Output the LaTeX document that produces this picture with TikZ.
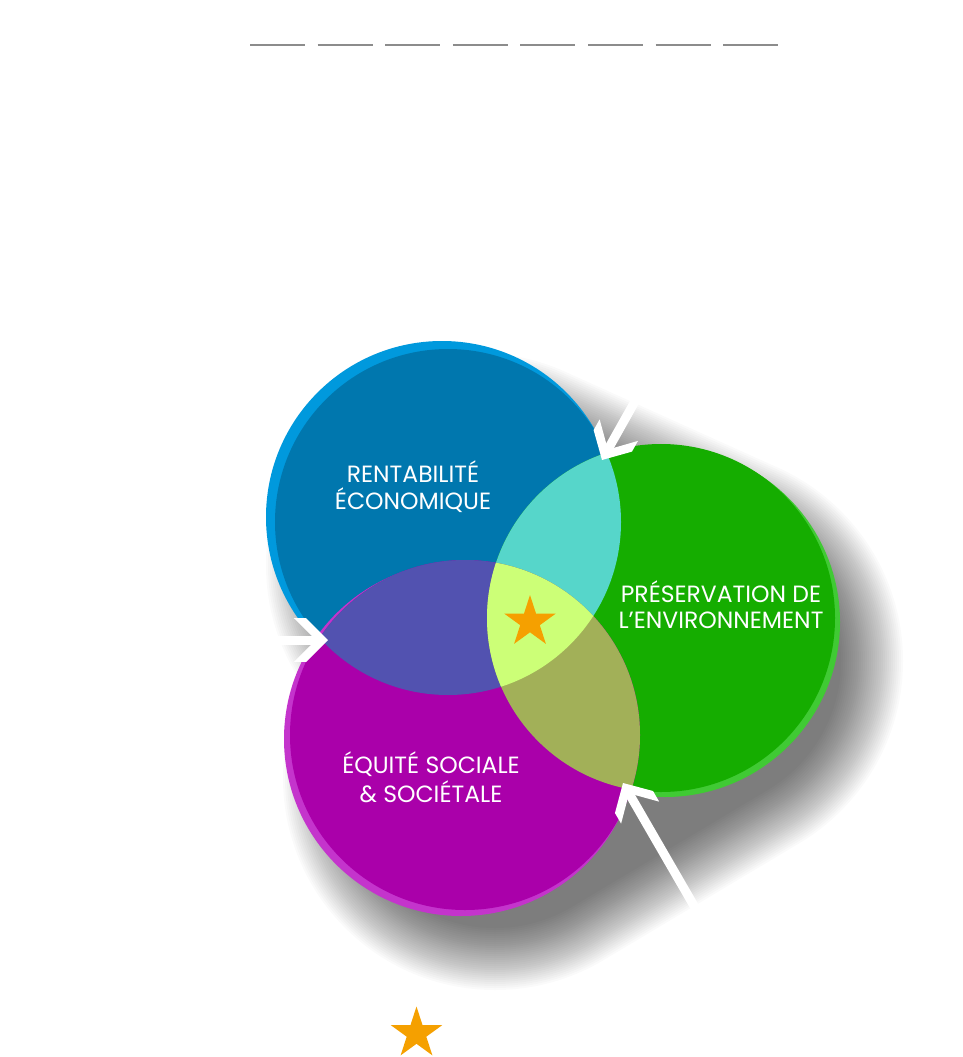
\documentclass[tikz,border=0pt]{standalone}
\usepackage{fontspec}
\setmainfont{Poppins}
\usetikzlibrary{calc}
\definecolor{blueDark}{RGB}{0,119,174}
\definecolor{blueRim}{RGB}{0,153,221}
\definecolor{greenDark}{RGB}{21,173,0}
\definecolor{greenRim}{RGB}{64,202,52}
\definecolor{magDark}{RGB}{170,0,170}
\definecolor{magRim}{RGB}{196,52,204}
\definecolor{tealLens}{RGB}{86,214,202}
\definecolor{purpleLens}{RGB}{82,82,176}
\definecolor{oliveLens}{RGB}{162,176,88}
\definecolor{centerLens}{RGB}{204,255,119}
\definecolor{starCol}{RGB}{245,160,0}
\definecolor{dashCol}{RGB}{140,140,140}
\tikzset{
  label/.style={text=white, font=\fontsize{23.5}{28}\selectfont, anchor=base, inner sep=0pt},
  shaft/.style={white, line width=9pt},
  head/.style={fill=white, draw=none},
  shadowlayer/.style={black, fill opacity=0.02, nonzero rule},
  pics/mystar/.style={code={
    \fill[starCol] (0,-27) -- (6.05,-8.33) -- (25.68,-8.34) -- (9.80,3.18) -- (15.87,21.84)
      -- (0,10.3) -- (-15.87,21.84) -- (-9.80,3.18) -- (-25.68,-8.34) -- (-6.05,-8.33) -- cycle;
  }}
}
\newcommand{\arrowhead}[2]{%
  \fill[head] (#1) -- ($(#1)!31.1pt!45:(#2)$) -- ($(#1)!40.7pt!32.7:(#2)$) -- ($(#1)!12pt!(#2)$)
    -- ($(#1)!40.7pt!-32.7:(#2)$) -- ($(#1)!31.1pt!-45:(#2)$) -- cycle;
  \draw[shaft] (#2) -- ($(#1)!10pt!(#2)$);
}
\begin{document}
\begin{tikzpicture}[x=1pt,y=-1pt]
\fill[white] (0,0) rectangle (962,1057);
\useasboundingbox (0,0) rectangle (962,1057);

% top dashes
\foreach \i in {0,...,7}
  \draw[dashCol, line width=1.3pt] ({250+67.6*\i},45) -- ({305+67.6*\i},45);

% circle centres
\coordinate (cB) at (448,522);
\coordinate (cG) at (661,618);
\coordinate (cM) at (465,735);
% shadow centres
\coordinate (sB) at (478,565);
\coordinate (sG) at (691,661);
\coordinate (sM) at (495,778);

% soft shadow of the whole group (union of discs and hulls at each level)
\foreach \k in {0,...,31} {
  \pgfmathsetmacro\R{212-2*\k}
  \fill[shadowlayer]
    (sB) circle (\R pt) (sG) circle (\R pt) (sM) circle (\R pt)
    ($(sM)+({\R*0.5126},{\R*0.8587})$) -- ($(sG)+({\R*0.5126},{\R*0.8587})$)
      -- ($(sG)-({\R*0.5126},{\R*0.8587})$) -- ($(sM)-({\R*0.5126},{\R*0.8587})$) -- cycle
    ($(sG)+({\R*0.4109},{-\R*0.9117})$) -- ($(sB)+({\R*0.4109},{-\R*0.9117})$)
      -- ($(sB)-({\R*0.4109},{-\R*0.9117})$) -- ($(sG)-({\R*0.4109},{-\R*0.9117})$) -- cycle;
}

% rims and circles
\fill[blueRim] ($(cB)+(-6,-5)$) circle (176pt);
\fill[blueDark] (cB) circle (173pt);
\fill[greenRim] ($(cG)+(4,4)$) circle (175pt);
\fill[greenDark] (cG) circle (174pt);
\fill[magRim] ($(cM)+(-4,4)$) circle (177pt);
\fill[magDark] (cM) circle (175pt);

% lenses
\begin{scope}
  \clip (cB) circle (173pt);
  \fill[tealLens] (cG) circle (174pt);
  \fill[purpleLens] (cM) circle (175pt);
\end{scope}
\begin{scope}
  \clip (cG) circle (174pt);
  \fill[oliveLens] (cM) circle (175pt);
\end{scope}
\begin{scope}
  \clip (cB) circle (173pt);
  \clip (cG) circle (174pt);
  \fill[centerLens] (cM) circle (175pt);
\end{scope}

% labels
\node[label] (b1) at (413,482) {RENTABILITÉ};
\node[label] (b2) at (413,509) {ÉCONOMIQUE};
\node[label] (g1) at (721,602) {PRÉSERVATION DE};
\node[label] (g2) at (721,628) {L’ENVIRONNEMENT};
\node[label] (m1) at (431,773) {ÉQUITÉ SOCIALE};
\node[label] (m2) at (431,802) {\& SOCIÉTALE};

% stars
\pic at (530,622) {mystar};
\pic at (416.5,1033.5) {mystar};

% arrows
\coordinate (t1) at (602,460); \coordinate (s1) at (665,348);
\coordinate (t2) at (328,640); \coordinate (s2) at (255,640);
\coordinate (t3) at (623,783); \coordinate (s3) at (708,930);
\arrowhead{t1}{s1}
\arrowhead{t2}{s2}
\arrowhead{t3}{s3}
\end{tikzpicture}
\end{document}
